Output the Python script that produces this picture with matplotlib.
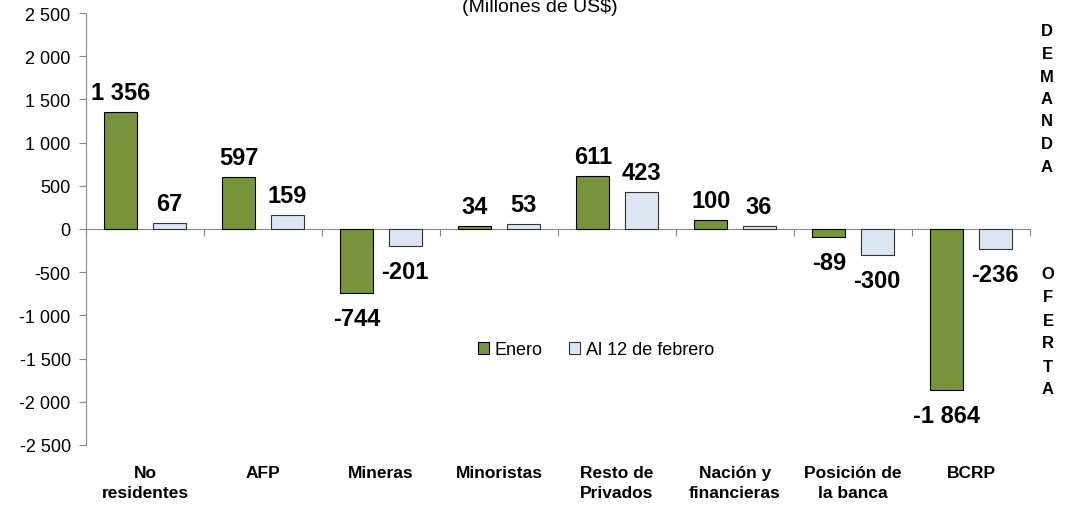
import matplotlib
matplotlib.use("Agg")
import matplotlib.pyplot as plt
from matplotlib.patches import Patch
import matplotlib.transforms as mtransforms
import numpy as np

categories = ["No\nresidentes", "AFP", "Mineras", "Minoristas", "Resto de\nPrivados",
              "Nación y\nfinancieras", "Posición de\nla banca", "BCRP"]
enero = [1356, 597, -744, 34, 611, 100, -89, -1864]
febrero = [67, 159, -201, 53, 423, 36, -300, -236]
series_names = ["Enero", "Al 12 de febrero"]
yticks = [-2500, -2000, -1500, -1000, -500, 0, 500, 1000, 1500, 2000, 2500]

def fmt(v):
    s = f"{abs(v):,}".replace(",", " ")
    return ("-" if v < 0 else "") + s

plt.rcParams['font.family'] = ['Liberation Sans', 'DejaVu Sans']

fig = plt.figure(figsize=(10.68, 5.06), dpi=100)
ax = fig.add_axes([86/1068, 60/506, (1030-86)/1068, 432/506])

green = "#77933C"
blue = "#DCE6F2"
x = np.arange(len(categories))
w = 0.28
off = 0.204
ax.bar(x - off, enero, w, color=green, edgecolor="black", linewidth=0.8, zorder=3)
ax.bar(x + off, febrero, w, color=blue, edgecolor="#333333", linewidth=0.8, zorder=3)

for xs, vals in ((x - off, enero), (x + off, febrero)):
    for xi, v in zip(xs, vals):
        if v >= 0:
            ax.annotate(fmt(v), (xi, v), xytext=(0, 6), textcoords="offset points",
                        ha="center", va="bottom", fontsize=17, fontweight="bold")
        else:
            ax.annotate(fmt(v), (xi, v), xytext=(0, -10), textcoords="offset points",
                        ha="center", va="top", fontsize=17, fontweight="bold")

ax.set_xlim(-0.5, len(categories) - 0.5)
ax.set_ylim(-2500, 2500)
ax.set_yticks(yticks)
ax.set_yticklabels([fmt(v) for v in yticks], fontsize=13)
ax.set_xticks(np.arange(len(categories) + 1) - 0.5)
ax.set_xticklabels([])
ax.tick_params(axis="x", direction="out", length=5, color="#888888")
ax.tick_params(axis="y", direction="out", length=5, color="#888888", pad=6)

for s in ("top", "right"):
    ax.spines[s].set_visible(False)
ax.spines["bottom"].set_position(("data", 0))
ax.spines["bottom"].set_color("#888888")
ax.spines["left"].set_color("#888888")

trans = mtransforms.blended_transform_factory(ax.transData, fig.transFigure)
for xi, c in zip(x, categories):
    ax.text(xi, 1 - 466/506, c, transform=trans, ha="center", va="top",
            fontsize=12.5, fontweight="bold", linespacing=1.45)

fig.text(540/1068, 1 - 12/506, "(Millones de US$)", ha="center", va="baseline", fontsize=14)

for i, ch in enumerate("DEMANDA"):
    fig.text(1047/1068, 1 - (32 + i * 22.5)/506, ch, ha="center", va="center",
             fontsize=12, fontweight="bold")
for i, ch in enumerate("OFERTA"):
    fig.text(1048/1068, 1 - (275 + i * 23)/506, ch, ha="center", va="center",
             fontsize=12, fontweight="bold")

handles = [Patch(facecolor=green, edgecolor="black", linewidth=0.8),
           Patch(facecolor=blue, edgecolor="#333333", linewidth=0.8)]
fig.legend(handles, series_names, loc="center", bbox_to_anchor=(596/1068, 1 - 351/506),
           ncol=2, frameon=False, fontsize=13, handlelength=0.6, handleheight=0.6,
           handletextpad=0.3, columnspacing=1.5)

fig.savefig("out.png", dpi=100)
